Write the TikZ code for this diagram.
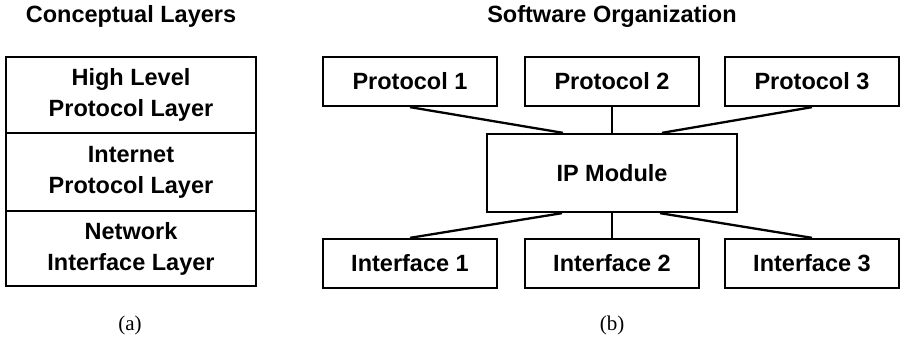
\documentclass[tikz,border=0pt]{standalone}
\usepackage{fontspec}
\setmainfont{Liberation Sans}
\newfontfamily\capfont{Liberation Serif}
\begin{document}
\begin{tikzpicture}[x=1pt,y=-1pt,
  lbl/.style={font=\bfseries\fontsize{23.5}{31}\selectfont, align=center},
  boxn/.style={lbl, draw, line width=2.3pt, inner sep=0pt, minimum width=174pt, minimum height=49pt},
  layer/.style={lbl, draw, line width=2.3pt, inner sep=0pt, minimum width=250pt},
  conn/.style={line width=2.3pt},
  sub/.style={font=\capfont\fontsize{21}{25}\selectfont, anchor=base}]
\useasboundingbox (0,0) rectangle (904,339);
% titles
\node[lbl, anchor=base] (t1) at (131,23) {Conceptual Layers};
\node[lbl, anchor=base] (t2) at (612,23) {Software Organization};
% left stack
\node[layer, minimum height=76pt] (L1) at (131,95) {High Level\\Protocol Layer};
\node[layer, minimum height=78pt] (L2) at (131,172) {Internet\\Protocol Layer};
\node[layer, minimum height=75pt] (L3) at (131,248.5) {Network\\Interface Layer};
% right diagram
\node[boxn] (P1) at (410,81.5) {Protocol 1};
\node[boxn] (P2) at (612,81.5) {Protocol 2};
\node[boxn] (P3) at (812,81.5) {Protocol 3};
\node[boxn, minimum width=250pt, minimum height=78pt] (IP) at (612,173) {IP Module};
\node[boxn] (I1) at (410,263.5) {Interface 1};
\node[boxn] (I2) at (612,263.5) {Interface 2};
\node[boxn] (I3) at (812,263.5) {Interface 3};
\coordinate (IPnl) at ([xshift=-49pt]IP.north);
\coordinate (IPnr) at ([xshift=50pt]IP.north);
\coordinate (IPsl) at ([xshift=-50pt]IP.south);
\coordinate (IPsr) at ([xshift=48pt]IP.south);
\draw[conn] (P1.south) -- (IPnl);
\draw[conn] (P2.south) -- (IP.north);
\draw[conn] (P3.south) -- (IPnr);
\draw[conn] (IPsl) -- (I1.north);
\draw[conn] (IP.south) -- (I2.north);
\draw[conn] (IPsr) -- (I3.north);
% captions
\node[sub] (ca) at (130,330) {(a)};
\node[sub] (cb) at (612,330) {(b)};
\end{tikzpicture}
\end{document}
